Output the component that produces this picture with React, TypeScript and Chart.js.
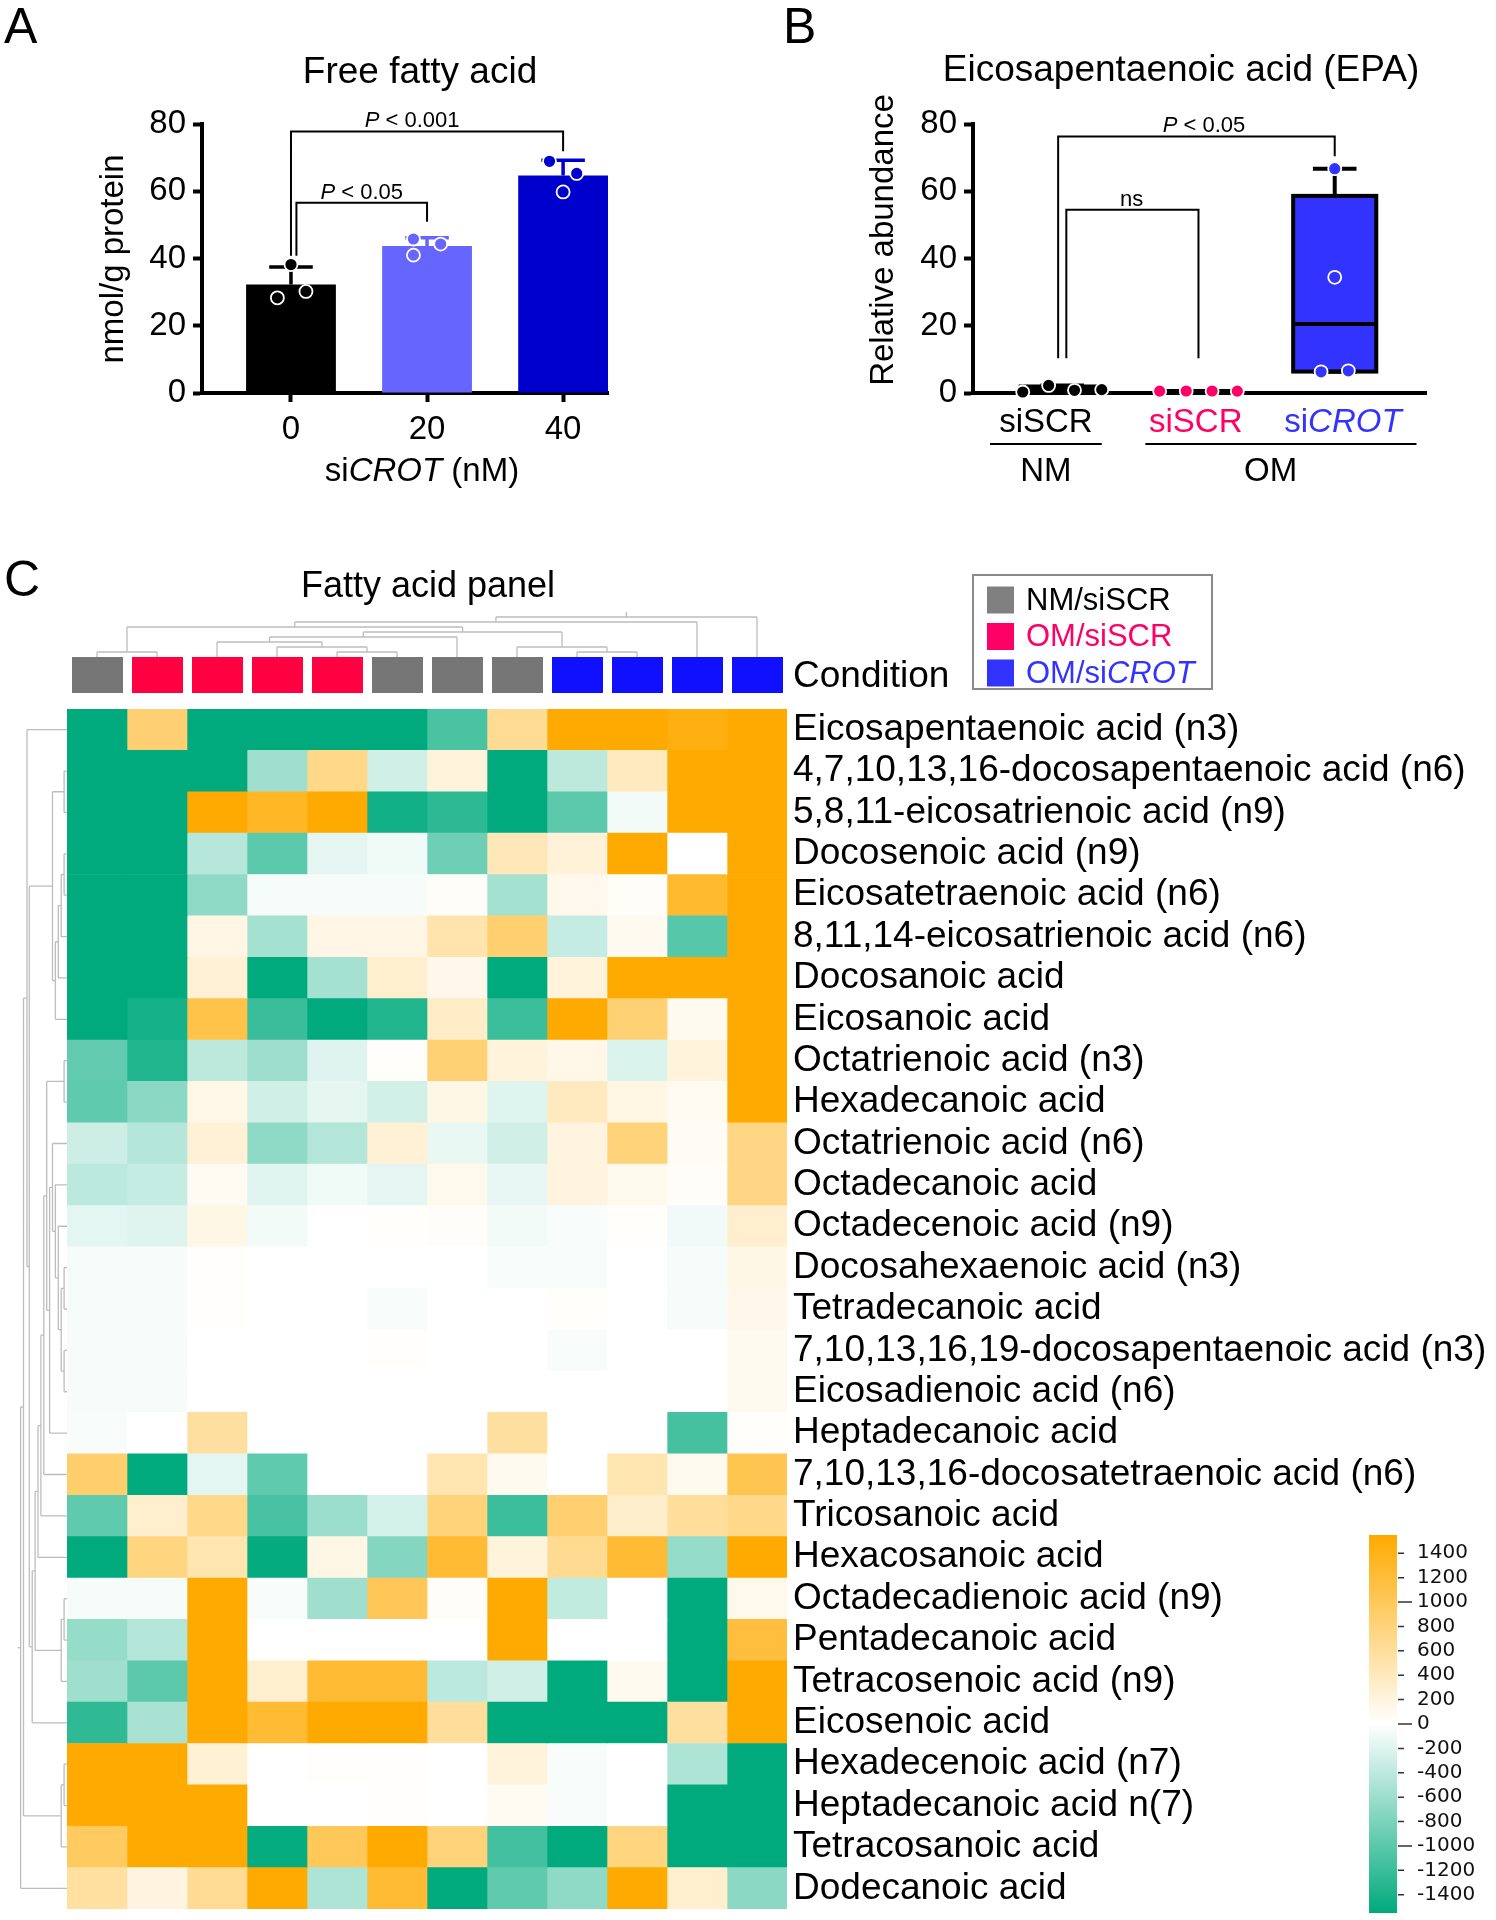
import React, { useEffect, useRef } from 'react';
import { Chart, registerables } from 'chart.js';

Chart.register(...registerables);

const SANS = '"Liberation Sans", Arial, Helvetica, sans-serif';
const DEJAVU = '"DejaVu Sans", Verdana, sans-serif';

/* ---------------- Panel A: Free fatty acid ---------------- */
const A_TITLE = 'Free fatty acid';
const A_CATEGORIES = ['0', '20', '40'];
const A_SICROT_0 = [38.2, 30.2, 28.3];
const A_SICROT_20 = [45.8, 44.3, 41.0];
const A_SICROT_40 = [68.9, 65.3, 59.8];
const A_GROUPS = [A_SICROT_0, A_SICROT_20, A_SICROT_40];
const A_JITTER = [[0, 0.11, -0.1], [-0.1, 0.1, -0.1], [-0.1, 0.1, 0]];
const A_COLORS = ['#000000', '#6666FF', '#0000CC'];
const A_Y_TICKS = [0, 20, 40, 60, 80];
const A_BRACKETS = [
  { from: 0, to: 2, top: 77.8, leftEnd: 40.8, rightEnd: 71.9, p: ' < 0.001', labelAt: 0.89 },
  { from: 0.04, to: 1, top: 56.6, leftEnd: 40.8, rightEnd: 50.9, p: ' < 0.05', labelAt: 0.52 },
];

/* ---------------- Panel B: EPA ---------------- */
const B_TITLE = 'Eicosapentaenoic acid (EPA)';
const B_NM_SISCR = [0.3, 2.25, 0.8, 1.0];
const B_OM_SISCR = [0.55, 0.6, 0.6, 0.55];
const B_OM_SICROT = [6.3, 66.7, 34.4, 6.6];
const B_GROUPS = [B_NM_SISCR, B_OM_SISCR, B_OM_SICROT];
const B_JITTER = [[-0.29, -0.1, 0.09, 0.29], [-0.285, -0.09, 0.1, 0.285], [-0.1, 0, 0, 0.1]];
const B_COLORS = ['#000000', '#FF0066', '#3333FF'];
const B_BOX_FILL = ['#000000', '#000000', '#3333FF'];
const B_Y_TICKS = [0, 20, 40, 60, 80];
const B_BRACKETS = [
  { from: -0.03, to: 2, top: 76.3, leftEnd: 10.3, rightEnd: 70.4, italicP: true, text: ' < 0.05', labelAt: 1.04 },
  { from: 0.03, to: 1, top: 54.5, leftEnd: 10.3, rightEnd: 10.3, italicP: false, text: 'ns', labelAt: 0.51 },
];
const B_TREATMENTS = ['siSCR', 'siSCR', 'siCROT'];
const B_MEDIA = ['NM', 'OM'];

/* ---------------- Panel C: heatmap ---------------- */
const HEAT_TITLE = 'Fatty acid panel';
const FATTY_ACIDS = [
  'Eicosapentaenoic acid (n3)',
  '4,7,10,13,16-docosapentaenoic acid (n6)',
  '5,8,11-eicosatrienoic acid (n9)',
  'Docosenoic acid (n9)',
  'Eicosatetraenoic acid (n6)',
  '8,11,14-eicosatrienoic acid (n6)',
  'Docosanoic acid',
  'Eicosanoic acid',
  'Octatrienoic acid (n3)',
  'Hexadecanoic acid',
  'Octatrienoic acid (n6)',
  'Octadecanoic acid',
  'Octadecenoic acid (n9)',
  'Docosahexaenoic acid (n3)',
  'Tetradecanoic acid',
  '7,10,13,16,19-docosapentaenoic acid (n3)',
  'Eicosadienoic acid (n6)',
  'Heptadecanoic acid',
  '7,10,13,16-docosatetraenoic acid (n6)',
  'Tricosanoic acid',
  'Hexacosanoic acid',
  'Octadecadienoic acid (n9)',
  'Pentadecanoic acid',
  'Tetracosenoic acid (n9)',
  'Eicosenoic acid',
  'Hexadecenoic acid (n7)',
  'Heptadecanoic acid n(7)',
  'Tetracosanoic acid',
  'Dodecanoic acid',
];
const SAMPLE_CONDITIONS = ['NM', 'OM', 'OM', 'OM', 'OM', 'NM', 'NM', 'NM', 'CROT', 'CROT', 'CROT', 'CROT'];
const HEAT_VALUES = [
  [-1550, 850, -1550, -1550, -1550, -1550, -1100, 650, 1550, 1550, 1450, 1550],
  [-1550, -1550, -1550, -580, 710, -290, 210, -1550, -400, 380, 1550, 1550],
  [-1550, -1550, 1550, 1320, 1550, -1450, -1280, -1550, -990, -70, 1550, 1550],
  [-1550, -1550, -440, -990, -160, -90, -875, 430, 230, 1550, 0, 1550],
  [-1550, -1550, -680, -60, -60, -60, 30, -550, 120, 40, 1260, 1550],
  [-1550, -1550, 160, -550, 160, 160, 500, 870, -350, 90, -1030, 1550],
  [-1550, -1550, 255, -1550, -550, 290, 130, -1550, 210, 1550, 1550, 1550],
  [-1550, -1420, 1100, -1200, -1550, -1350, 335, -1190, 1550, 840, 90, 1550],
  [-955, -1350, -400, -595, -195, 25, 840, 210, 140, -225, 210, 1550],
  [-975, -705, 140, -290, -150, -280, 150, -200, 390, 170, 70, 1550],
  [-305, -455, 250, -680, -460, 250, -130, -290, 195, 810, 60, 755],
  [-410, -350, 70, -190, -90, -160, 115, -140, 205, 105, 40, 755],
  [-165, -195, 150, -70, 0, 25, 35, -70, -45, 25, -85, 295],
  [-60, -60, 20, 0, 0, 0, 0, -45, -45, 0, -60, 150],
  [-60, -60, 20, 0, 0, -45, 0, 0, 25, 0, -60, 125],
  [-50, -50, 0, 0, 0, 20, 0, 0, -45, 0, 0, 90],
  [-50, -50, 0, 0, 0, 0, 0, 0, 0, 0, 0, 90],
  [-45, 0, 580, 0, 0, 0, 0, 580, 0, 0, -1130, 25],
  [890, -1550, -170, -975, 0, 0, 480, 90, 0, 480, 90, 1060],
  [-975, 295, 710, -1110, -600, -260, 810, -1190, 870, 310, 615, 710],
  [-1550, 775, 480, -1530, 150, -740, 1240, 210, 660, 1240, -645, 1550],
  [-60, -60, 1550, -45, -580, 1020, 40, 1550, -370, 0, -1550, 115],
  [-645, -455, 1550, 0, 0, 0, 0, 1550, 0, 0, -1550, 1180],
  [-580, -990, 1550, 290, 1240, 1240, -410, -290, -1550, 90, -1550, 1550],
  [-1265, -525, 1550, 1240, 1550, 1550, 605, -1550, -1550, -1550, 580, 1550],
  [1550, 1550, 260, 0, 20, 20, 0, 210, -45, 0, -490, -1550],
  [1550, 1550, 1550, 0, 0, 20, 0, 80, -45, 0, -1550, -1550],
  [965, 1550, 1550, -1520, 1010, 1550, 810, -1150, -1550, 775, -1550, -1550],
  [570, 195, 650, 1550, -495, 1240, -1550, -975, -680, 1550, 295, -705],
];
const HEAT_MAX = 1550;
const COLORBAR_TICKS = [-1400, -1200, -1000, -800, -600, -400, -200, 0, 200, 400, 600, 800, 1000, 1200, 1400];
const LEGEND_LABELS = ['NM/siSCR', 'OM/siSCR', 'OM/siCROT'];

// dendrograms: [left, right, mergeHeight]; leaves are column / row indices
type Tree = number | [Tree, Tree, number];
const COL_TREE: Tree = [[[[0, 1, 1], [[[2, [3, [4, 5, 1], 2], 3], 6, 4], [7, [8, 9, 1], 2], 5], 6], 10, 7], 11, 8];
const ROW_1_7: Tree = [[1, 2, 1], [[[[3, 4, 1], 5, 2], 6, 3], 7, 4], 5];
const ROW_10_17: Tree = [[10, [11, [12, [[13, 14, 1], [15, 16, 1], 2], 3], 4], 5], 17, 6];
const ROW_8_20: Tree = [[[[[8, 9, 1], ROW_10_17, 7], 18, 8], 19, 9], 20, 10];
const ROW_8_24: Tree = [[ROW_8_20, [[21, 22, 1], 23, 2], 11], 24, 12];
const ROW_TREE: Tree = [[[0, [ROW_1_7, ROW_8_24, 13], 13.8], [[25, 26, 1], 27, 2], 15], 28, 16];

/* ---------------- styles ---------------- */
const COND_SQUARE = { NM: '#767676', OM: '#FF0040', CROT: '#1010FF' };
const LEGEND_SQUARE = ['#808080', '#FF0066', '#3333FF'];
const LEGEND_TEXT = ['#000000', '#FF0066', '#3333FF'];
const HIGH_RGB = [255, 170, 0];
const LOW_RGB = [0, 170, 125];
const B_BOX_HALF = 0.305;

/* ---------------- helpers ---------------- */
const mean = (a: number[]) => a.reduce((s, v) => s + v, 0) / a.length;
const sd = (a: number[]) => {
  const m = mean(a);
  return Math.sqrt(a.reduce((s, v) => s + (v - m) * (v - m), 0) / (a.length - 1));
};
function quantile(sorted: number[], p: number) {
  const pos = Math.min(Math.max(p * (sorted.length + 1) - 1, 0), sorted.length - 1);
  const lo = Math.floor(pos);
  const hi = Math.ceil(pos);
  return sorted[lo] + (pos - lo) * (sorted[hi] - sorted[lo]);
}
function boxStats(a: number[]) {
  const s = [...a].sort((x, y) => x - y);
  return { min: s[0], max: s[s.length - 1], q1: quantile(s, 0.25), median: quantile(s, 0.5), q3: quantile(s, 0.75) };
}
function heatColor(v: number) {
  const t = Math.max(-1, Math.min(1, v / HEAT_MAX));
  const c = t >= 0 ? HIGH_RGB : LOW_RGB;
  const a = Math.abs(t);
  const ch = (k: number) => Math.round(255 + (c[k] - 255) * a);
  return `rgb(${ch(0)},${ch(1)},${ch(2)})`;
}
type Run = { t: string; i?: boolean };
function drawRuns(ctx: any, runs: Run[], x: number, y: number, size: number, align: string, color: string, family = SANS) {
  const fonts = runs.map((r) => `${r.i ? 'italic ' : ''}${size}px ${family}`);
  const widths = runs.map((r, k) => {
    ctx.font = fonts[k];
    return ctx.measureText(r.t).width;
  });
  const total = widths.reduce((s, w) => s + w, 0);
  let cx = align === 'center' ? x - total / 2 : x;
  ctx.textAlign = 'left';
  ctx.fillStyle = color;
  runs.forEach((r, k) => {
    ctx.font = fonts[k];
    ctx.fillText(r.t, cx, y);
    cx += widths[k];
  });
}
function drawDendro(ctx: any, tree: Tree, leafPos: (i: number) => number, hPos: (h: number) => number, rowMode: boolean, stub: number) {
  ctx.beginPath();
  const seg = (p1: number, h1: number, p2: number, h2: number) => {
    if (rowMode) {
      ctx.moveTo(hPos(h1), p1);
      ctx.lineTo(hPos(h2), p2);
    } else {
      ctx.moveTo(p1, hPos(h1));
      ctx.lineTo(p2, hPos(h2));
    }
  };
  const walk = (node: Tree): { p: number; h: number } => {
    if (typeof node === 'number') return { p: leafPos(node), h: 0 };
    const a = walk(node[0]);
    const b = walk(node[1]);
    const h = node[2];
    seg(a.p, a.h, a.p, h);
    seg(b.p, b.h, b.p, h);
    seg(a.p, h, b.p, h);
    return { p: (a.p + b.p) / 2, h };
  };
  const root = walk(tree);
  seg(root.p, root.h, root.p, root.h + stub);
  ctx.stroke();
}
function zeroPad(s: any) {
  s.paddingTop = 0;
  s.paddingBottom = 0;
  s.paddingLeft = 0;
  s.paddingRight = 0;
}
function drawBracket(ctx: any, xs: any, ys: any, b: any) {
  const xl = xs.getPixelForValue(b.from);
  const xr = xs.getPixelForValue(b.to);
  const yt = ys.getPixelForValue(b.top);
  ctx.strokeStyle = '#000';
  ctx.lineWidth = 2;
  ctx.beginPath();
  ctx.moveTo(xl, ys.getPixelForValue(b.leftEnd));
  ctx.lineTo(xl, yt);
  ctx.lineTo(xr, yt);
  ctx.lineTo(xr, ys.getPixelForValue(b.rightEnd));
  ctx.stroke();
  return yt;
}

/* ---------------- Panel A chart ---------------- */
const panelAPlugin = {
  id: 'panelAExtras',
  beforeDatasetDraw(chart: any, args: any) {
    if (args.index !== 1) return;
    const { ctx } = chart;
    const xs = chart.scales.x;
    const ys = chart.scales.y;
    ctx.save();
    A_GROUPS.forEach((g, i) => {
      const m = mean(g);
      const s = sd(g);
      const cx = xs.getPixelForValue(i);
      const yTop = ys.getPixelForValue(m + s);
      ctx.strokeStyle = A_COLORS[i];
      ctx.lineWidth = 3.5;
      ctx.beginPath();
      ctx.moveTo(cx, ys.getPixelForValue(m));
      ctx.lineTo(cx, yTop);
      ctx.moveTo(xs.getPixelForValue(i - 0.16), yTop);
      ctx.lineTo(xs.getPixelForValue(i + 0.16), yTop);
      ctx.stroke();
    });
    ctx.restore();
  },
  afterDraw(chart: any) {
    const { ctx } = chart;
    const xs = chart.scales.x;
    const ys = chart.scales.y;
    ctx.save();
    ctx.textBaseline = 'alphabetic';
    ctx.fillStyle = '#000';
    ctx.textAlign = 'left';
    ctx.font = `50px ${SANS}`;
    ctx.fillText('A', 4, 43);
    ctx.textAlign = 'center';
    ctx.font = `37px ${SANS}`;
    ctx.fillText(A_TITLE, 420, 83);
    drawRuns(ctx, [{ t: 'si' }, { t: 'CROT', i: true }, { t: ' (nM)' }], 422, 481, 33, 'center', '#000');
    ctx.save();
    ctx.translate(123, 259);
    ctx.rotate(-Math.PI / 2);
    drawRuns(ctx, [{ t: 'nmol/g protein' }], 0, 0, 33, 'center', '#000');
    ctx.restore();
    A_BRACKETS.forEach((b) => {
      const yt = drawBracket(ctx, xs, ys, b);
      drawRuns(ctx, [{ t: 'P', i: true }, { t: b.p }], xs.getPixelForValue(b.labelAt), yt - 4, 22, 'center', '#000');
    });
    ctx.restore();
  },
};

function makeA(): any {
  const means = A_GROUPS.map(mean);
  return {
    type: 'bar',
    data: {
      datasets: [
        {
          type: 'bar',
          data: means.map((m, i) => ({ x: i, y: m })),
          backgroundColor: A_COLORS,
          borderWidth: 0,
          barPercentage: 0.66,
          categoryPercentage: 1,
          order: 2,
        },
        {
          type: 'scatter',
          data: A_GROUPS.flatMap((g, i) => g.map((v, j) => ({ x: i + A_JITTER[i][j], y: v, g: i }))),
          pointBackgroundColor: (c: any) => A_COLORS[c.raw ? c.raw.g : 0],
          pointBorderColor: '#FFFFFF',
          pointBorderWidth: 1.8,
          pointRadius: 6.5,
          clip: false,
          order: 1,
        },
      ],
    },
    options: {
      animation: false,
      responsive: false,
      devicePixelRatio: 1,
      events: [],
      layout: { padding: { left: 0, top: 124, right: 92, bottom: 0 } },
      plugins: { legend: { display: false }, tooltip: { enabled: false }, title: { display: false } },
      scales: {
        x: {
          type: 'linear',
          min: -0.654,
          max: 2.33,
          offset: false,
          z: 1,
          afterBuildTicks: (s: any) => {
            s.ticks = A_CATEGORIES.map((_, i) => ({ value: i }));
          },
          ticks: {
            callback: (v: any) => A_CATEGORIES[Math.round(Number(v))] ?? '',
            font: { family: SANS, size: 33 },
            color: '#000',
            padding: 8,
            maxRotation: 0,
            autoSkip: false,
          },
          grid: { display: true, drawOnChartArea: false, tickLength: 9, tickWidth: 4, tickColor: '#000', offset: false },
          border: { display: true, color: '#000', width: 4 },
          afterFit: (s: any) => {
            s.height = 127;
            zeroPad(s);
          },
        },
        y: {
          type: 'linear',
          min: 0,
          max: 80,
          afterBuildTicks: (s: any) => {
            s.ticks = A_Y_TICKS.map((v) => ({ value: v }));
          },
          ticks: { callback: (v: any) => String(v), font: { family: SANS, size: 33 }, color: '#000', padding: 7, autoSkip: false },
          grid: { display: true, drawOnChartArea: false, tickLength: 9, tickWidth: 4, tickColor: '#000' },
          border: { display: true, color: '#000', width: 4 },
          afterFit: (s: any) => {
            s.width = 202;
            zeroPad(s);
          },
        },
      },
    },
    plugins: [panelAPlugin],
  };
}

/* ---------------- Panel B chart ---------------- */
const B_LABEL_AT = [-0.12, 0.98, 2.06];
const B_MEDIA_LINES = [
  [-0.53, 0.29],
  [0.61, 2.6],
];
const B_MEDIA_AT = [-0.12, 1.53];

const panelBPlugin = {
  id: 'panelBExtras',
  beforeDatasetDraw(chart: any, args: any) {
    if (args.index !== 1) return;
    const { ctx } = chart;
    const xs = chart.scales.x;
    const ys = chart.scales.y;
    ctx.save();
    ctx.strokeStyle = '#000';
    ctx.lineWidth = 4;
    B_GROUPS.forEach((g, i) => {
      const st = boxStats(g);
      const cx = xs.getPixelForValue(i);
      const capL = xs.getPixelForValue(i - 0.16);
      const capR = xs.getPixelForValue(i + 0.16);
      const boxL = xs.getPixelForValue(i - B_BOX_HALF);
      const boxR = xs.getPixelForValue(i + B_BOX_HALF);
      const yq1 = ys.getPixelForValue(st.q1);
      const yq3 = ys.getPixelForValue(st.q3);
      ctx.beginPath();
      ctx.moveTo(cx, yq3);
      ctx.lineTo(cx, ys.getPixelForValue(st.max));
      ctx.moveTo(capL, ys.getPixelForValue(st.max));
      ctx.lineTo(capR, ys.getPixelForValue(st.max));
      ctx.moveTo(cx, yq1);
      ctx.lineTo(cx, ys.getPixelForValue(st.min));
      ctx.moveTo(capL, ys.getPixelForValue(st.min));
      ctx.lineTo(capR, ys.getPixelForValue(st.min));
      ctx.moveTo(boxL, ys.getPixelForValue(st.median));
      ctx.lineTo(boxR, ys.getPixelForValue(st.median));
      ctx.stroke();
      ctx.strokeRect(boxL, yq3, boxR - boxL, yq1 - yq3);
    });
    ctx.restore();
  },
  afterDraw(chart: any) {
    const { ctx } = chart;
    const xs = chart.scales.x;
    const ys = chart.scales.y;
    ctx.save();
    ctx.textBaseline = 'alphabetic';
    ctx.fillStyle = '#000';
    ctx.textAlign = 'left';
    ctx.font = `50px ${SANS}`;
    ctx.fillText('B', 23, 43);
    ctx.textAlign = 'center';
    ctx.font = `37px ${SANS}`;
    ctx.fillText(B_TITLE, 421, 81);
    ctx.save();
    ctx.translate(133, 240);
    ctx.rotate(-Math.PI / 2);
    drawRuns(ctx, [{ t: 'Relative abundance' }], 0, 0, 33, 'center', '#000');
    ctx.restore();
    B_BRACKETS.forEach((b) => {
      const yt = drawBracket(ctx, xs, ys, b);
      const runs = b.italicP ? [{ t: 'P', i: true }, { t: b.text }] : [{ t: b.text }];
      drawRuns(ctx, runs, xs.getPixelForValue(b.labelAt), yt - 4, 22, 'center', '#000');
    });
    B_TREATMENTS.forEach((t, i) => {
      const runs = t === 'siCROT' ? [{ t: 'si' }, { t: 'CROT', i: true }] : [{ t }];
      drawRuns(ctx, runs, xs.getPixelForValue(B_LABEL_AT[i]), 432, 33, 'center', B_COLORS[i]);
    });
    ctx.strokeStyle = '#000';
    ctx.lineWidth = 2;
    B_MEDIA_LINES.forEach(([a, b]) => {
      ctx.beginPath();
      ctx.moveTo(xs.getPixelForValue(a), 444);
      ctx.lineTo(xs.getPixelForValue(b), 444);
      ctx.stroke();
    });
    B_MEDIA.forEach((m, k) => drawRuns(ctx, [{ t: m }], xs.getPixelForValue(B_MEDIA_AT[k]), 481, 33, 'center', '#000'));
    ctx.restore();
  },
};

function makeB(): any {
  return {
    type: 'bar',
    data: {
      datasets: [
        {
          type: 'bar',
          data: B_GROUPS.map((g, i) => {
            const st = boxStats(g);
            return { x: i, y: [st.q1, st.q3] };
          }),
          backgroundColor: B_BOX_FILL,
          borderWidth: 0,
          barPercentage: B_BOX_HALF * 2,
          categoryPercentage: 1,
          order: 2,
        },
        {
          type: 'scatter',
          data: B_GROUPS.flatMap((g, i) => g.map((v, j) => ({ x: i + B_JITTER[i][j], y: v, g: i }))),
          pointBackgroundColor: (c: any) => B_COLORS[c.raw ? c.raw.g : 0],
          pointBorderColor: '#FFFFFF',
          pointBorderWidth: 1.8,
          pointRadius: 6.5,
          clip: false,
          order: 1,
        },
      ],
    },
    options: {
      animation: false,
      responsive: false,
      devicePixelRatio: 1,
      events: [],
      layout: { padding: { left: 0, top: 124, right: 70, bottom: 0 } },
      plugins: { legend: { display: false }, tooltip: { enabled: false }, title: { display: false } },
      scales: {
        x: {
          type: 'linear',
          min: -0.655,
          max: 2.67,
          offset: false,
          afterBuildTicks: (s: any) => {
            s.ticks = B_TREATMENTS.map((_, i) => ({ value: i }));
          },
          ticks: { display: false },
          grid: { display: false },
          border: { display: true, color: '#000', width: 4 },
          afterFit: (s: any) => {
            s.height = 127;
            zeroPad(s);
          },
        },
        y: {
          type: 'linear',
          min: 0,
          max: 80,
          afterBuildTicks: (s: any) => {
            s.ticks = B_Y_TICKS.map((v) => ({ value: v }));
          },
          ticks: { callback: (v: any) => String(v), font: { family: SANS, size: 33 }, color: '#000', padding: 7, autoSkip: false },
          grid: { display: true, drawOnChartArea: false, tickLength: 9, tickWidth: 4, tickColor: '#000' },
          border: { display: true, color: '#000', width: 4 },
          afterFit: (s: any) => {
            s.width = 213;
            zeroPad(s);
          },
        },
      },
    },
    plugins: [panelBPlugin],
  };
}

/* ---------------- Panel C heatmap chart ---------------- */
const heatPlugin = {
  id: 'heatExtras',
  afterDraw(chart: any) {
    const { ctx, chartArea: area } = chart;
    const xs = chart.scales.x;
    const ys = chart.scales.y;
    ctx.save();
    ctx.fillStyle = '#000';
    ctx.textBaseline = 'alphabetic';
    ctx.textAlign = 'left';
    ctx.font = `50px ${SANS}`;
    ctx.fillText('C', 4, 56);
    ctx.textAlign = 'center';
    ctx.font = `36px ${SANS}`;
    ctx.fillText(HEAT_TITLE, 428, 57);

    // condition annotation squares
    const sqTop = area.top - 52;
    const sqBottom = area.top - 16;
    SAMPLE_CONDITIONS.forEach((cond, c) => {
      const l = xs.getPixelForValue(c) + 5;
      const r = xs.getPixelForValue(c + 1) - 4;
      ctx.fillStyle = (COND_SQUARE as any)[cond];
      ctx.fillRect(l, sqTop, r - l, sqBottom - sqTop);
    });
    ctx.textBaseline = 'middle';
    drawRuns(ctx, [{ t: 'Condition' }], area.right + 6, (sqTop + sqBottom) / 2 + 2, 37, 'left', '#000');

    // dendrograms
    ctx.strokeStyle = '#BDBDBD';
    ctx.lineWidth = 1.3;
    drawDendro(ctx, COL_TREE, (i) => xs.getPixelForValue(i + 0.5), (h) => sqTop - h * 5, false, 1);
    drawDendro(ctx, ROW_TREE, (i) => ys.getPixelForValue(i), (h) => area.left - h * 2.9, true, 1);

    // legend
    ctx.strokeStyle = '#8A8A8A';
    ctx.lineWidth = 2;
    ctx.strokeRect(973, 35, 239, 114);
    LEGEND_LABELS.forEach((lab, k) => {
      const cy = 60 + k * 36.5;
      ctx.fillStyle = LEGEND_SQUARE[k];
      ctx.fillRect(987, cy - 13.5, 27, 27);
      const runs = lab.endsWith('CROT') ? [{ t: 'OM/si' }, { t: 'CROT', i: true }] : [{ t: lab }];
      ctx.textBaseline = 'middle';
      drawRuns(ctx, runs, 1026, cy + 1, 31, 'left', LEGEND_TEXT[k]);
    });
    ctx.restore();
  },
};

function makeHeat(): any {
  return {
    type: 'bar',
    data: {
      labels: FATTY_ACIDS,
      datasets: SAMPLE_CONDITIONS.map((_, c) => ({
        data: FATTY_ACIDS.map((name, r) => ({ x: [c, c + 1], y: name, v: HEAT_VALUES[r][c] })),
        backgroundColor: (ctx: any) => heatColor(ctx.raw ? ctx.raw.v : 0),
        borderWidth: 0,
        barPercentage: 1,
        categoryPercentage: 1,
        grouped: false,
      })),
    },
    options: {
      animation: false,
      responsive: false,
      devicePixelRatio: 1,
      events: [],
      indexAxis: 'y',
      layout: { padding: { left: 67, top: 169, right: 0, bottom: 11 } },
      plugins: { legend: { display: false }, tooltip: { enabled: false }, title: { display: false } },
      scales: {
        x: { type: 'linear', min: 0, max: SAMPLE_CONDITIONS.length, display: false },
        y: {
          type: 'category',
          position: 'right',
          offset: true,
          grid: { display: false, drawTicks: false },
          border: { display: false },
          ticks: { font: { family: SANS, size: 37 }, color: '#000', padding: 6, autoSkip: false },
          afterFit: (s: any) => {
            s.width = 1496 - 787;
            zeroPad(s);
          },
        },
      },
    },
    plugins: [heatPlugin],
  };
}

/* ---------------- colour bar ---------------- */
const colorbarPlugin = {
  id: 'colorbarTicks',
  afterDraw(chart: any) {
    const { ctx, chartArea: area } = chart;
    const ys = chart.scales.y;
    ctx.save();
    ctx.strokeStyle = '#333';
    ctx.lineWidth = 1.5;
    ctx.beginPath();
    COLORBAR_TICKS.forEach((v) => {
      const y = ys.getPixelForValue(v);
      const len = v % 1000 === 0 ? 14 : 6;
      ctx.moveTo(area.right + 1, y);
      ctx.lineTo(area.right + 1 + len, y);
    });
    ctx.stroke();
    ctx.restore();
  },
};

function makeColorbar(): any {
  return {
    type: 'bar',
    data: {
      labels: [''],
      datasets: [
        {
          data: [[-HEAT_MAX, HEAT_MAX]],
          backgroundColor: (c: any) => {
            const area = c.chart.chartArea;
            if (!area) return '#fff';
            const g = c.chart.ctx.createLinearGradient(0, area.top, 0, area.bottom);
            g.addColorStop(0, heatColor(HEAT_MAX));
            g.addColorStop(0.5, heatColor(0));
            g.addColorStop(1, heatColor(-HEAT_MAX));
            return g;
          },
          borderWidth: 0,
          barPercentage: 1,
          categoryPercentage: 1,
        },
      ],
    },
    options: {
      animation: false,
      responsive: false,
      devicePixelRatio: 1,
      events: [],
      layout: { padding: { left: 39, top: 15, right: 0, bottom: 7 } },
      plugins: { legend: { display: false }, tooltip: { enabled: false } },
      scales: {
        x: { display: false },
        y: {
          position: 'right',
          min: -HEAT_MAX,
          max: HEAT_MAX,
          afterBuildTicks: (s: any) => {
            s.ticks = COLORBAR_TICKS.map((v) => ({ value: v }));
          },
          ticks: {
            callback: (v: any) => String(v),
            font: { family: DEJAVU, size: 20, lineHeight: 1 },
            color: '#111',
            padding: 20,
            autoSkip: false,
          },
          grid: { display: false, drawTicks: false },
          border: { display: false },
          afterFit: (s: any) => {
            s.width = 99;
            zeroPad(s);
          },
        },
      },
    },
    plugins: [colorbarPlugin],
  };
}

/* ---------------- components ---------------- */
function ChartCanvas({ left, top, width, height, make }: any) {
  const ref = useRef<HTMLCanvasElement>(null);
  useEffect(() => {
    const chart = new Chart(ref.current as HTMLCanvasElement, make());
    return () => chart.destroy();
  }, [make]);
  return (
    <canvas
      ref={ref}
      width={width}
      height={height}
      style={{ position: 'absolute', left, top, width, height, display: 'block' }}
    />
  );
}

export default function App() {
  return (
    <div
      style={{
        position: 'absolute',
        left: 0,
        top: 0,
        width: 1496,
        height: 1920,
        background: '#ffffff',
        overflow: 'hidden',
      }}
    >
      <ChartCanvas left={0} top={0} width={700} height={520} make={makeA} />
      <ChartCanvas left={760} top={0} width={736} height={520} make={makeB} />
      <ChartCanvas left={0} top={540} width={1496} height={1380} make={makeHeat} />
      <ChartCanvas left={1330} top={1520} width={166} height={400} make={makeColorbar} />
    </div>
  );
}
